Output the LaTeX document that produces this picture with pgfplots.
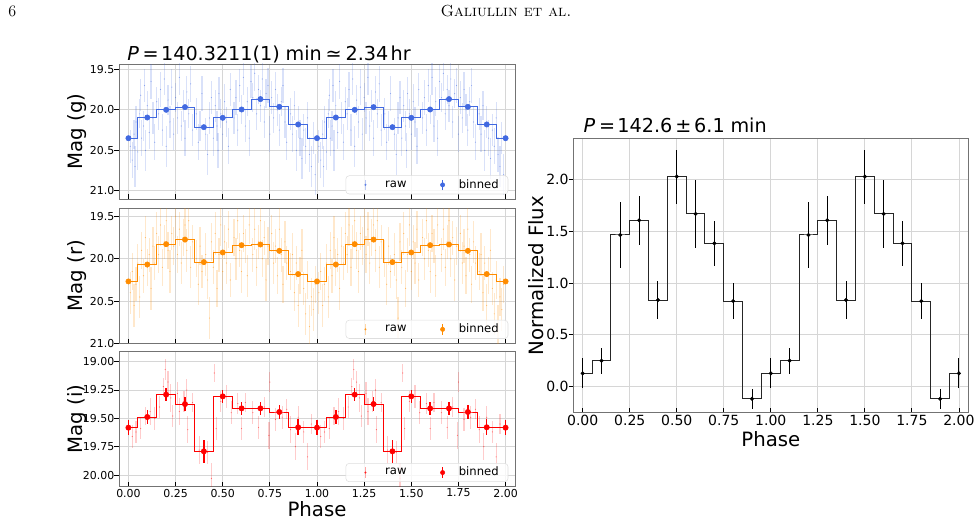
\documentclass[border=0pt]{standalone}
\usepackage{fontspec}
\usepackage{pgfplots}
\usepackage{pgfplotstable}
\pgfplotsset{compat=1.18}
\newfontfamily\dejavu{DejaVu Sans}
\definecolor{gblue}{RGB}{65,105,225}
\definecolor{rorange}{RGB}{255,140,0}
\definecolor{ired}{RGB}{255,0,0}

% ---------- raw g (phase 0-1; shown again at phase+1) ----------
\pgfplotstableread{
x y e
0.01 20.45 0.20
0.02 20.62 0.22
0.03 20.30 0.18
0.035 20.70 0.25
0.04 20.15 0.20
0.05 20.52 0.22
0.06 20.05 0.18
0.065 19.82 0.20
0.07 20.35 0.22
0.08 20.20 0.18
0.085 19.70 0.20
0.09 20.50 0.25
0.10 19.95 0.18
0.11 20.28 0.20
0.12 19.65 0.22
0.13 20.10 0.20
0.14 20.40 0.22
0.15 19.90 0.18
0.16 20.05 0.20
0.17 19.75 0.22
0.18 20.25 0.20
0.19 19.62 0.20
0.20 20.45 0.25
0.21 19.88 0.18
0.22 20.15 0.20
0.23 19.72 0.22
0.24 20.30 0.20
0.25 19.85 0.18
0.26 20.10 0.20
0.27 19.60 0.22
0.28 20.20 0.18
0.29 19.95 0.20
0.30 20.35 0.22
0.31 19.78 0.20
0.32 20.05 0.18
0.33 19.68 0.22
0.34 20.25 0.20
0.36 20.05 0.20
0.37 20.40 0.22
0.38 20.20 0.18
0.39 19.80 0.22
0.41 20.30 0.20
0.42 20.55 0.25
0.43 20.10 0.20
0.44 19.85 0.20
0.45 20.35 0.22
0.46 19.95 0.20
0.47 20.20 0.18
0.475 20.50 0.22
0.48 19.80 0.20
0.49 20.05 0.18
0.50 20.30 0.20
0.51 19.90 0.22
0.52 20.15 0.18
0.53 20.45 0.22
0.54 19.75 0.20
0.56 20.10 0.20
0.57 19.85 0.22
0.58 20.25 0.20
0.59 19.70 0.20
0.60 20.00 0.18
0.61 19.60 0.22
0.62 20.20 0.20
0.63 19.90 0.18
0.64 20.35 0.22
0.65 19.65 0.20
0.66 19.85 0.18
0.67 19.55 0.22
0.68 20.05 0.20
0.69 19.75 0.18
0.70 19.95 0.20
0.71 19.62 0.22
0.72 20.15 0.20
0.73 19.80 0.18
0.74 19.70 0.22
0.75 20.30 0.22
0.76 19.85 0.20
0.77 20.10 0.18
0.78 19.75 0.22
0.79 20.00 0.20
0.80 20.25 0.20
0.81 19.90 0.18
0.82 19.70 0.22
0.83 20.15 0.20
0.84 20.40 0.22
0.86 20.05 0.20
0.87 20.30 0.22
0.88 19.95 0.18
0.89 20.50 0.25
0.90 20.15 0.20
0.91 20.35 0.22
0.92 20.60 0.25
0.93 20.25 0.20
0.94 20.45 0.22
0.95 20.10 0.20
0.96 20.55 0.22
0.97 20.70 0.25
0.98 20.35 0.20
0.99 20.80 0.25
}\graw

% ---------- raw r ----------
\pgfplotstableread{
x y e
0.01 20.40 0.25
0.02 20.15 0.22
0.03 20.55 0.25
0.04 20.30 0.20
0.05 20.05 0.22
0.06 20.45 0.25
0.07 19.90 0.22
0.08 20.20 0.20
0.09 19.75 0.25
0.10 20.10 0.22
0.11 19.95 0.20
0.12 20.35 0.25
0.13 19.85 0.22
0.14 20.05 0.20
0.15 19.70 0.25
0.16 19.95 0.22
0.17 19.60 0.25
0.18 20.10 0.22
0.19 19.80 0.20
0.20 19.55 0.25
0.21 19.90 0.22
0.22 20.15 0.25
0.23 19.70 0.20
0.24 19.85 0.22
0.25 19.50 0.25
0.26 19.95 0.22
0.27 19.65 0.20
0.28 20.05 0.25
0.29 19.75 0.22
0.30 19.60 0.20
0.31 19.90 0.25
0.32 19.55 0.22
0.33 20.10 0.25
0.34 19.80 0.20
0.36 20.00 0.22
0.37 20.30 0.25
0.38 19.85 0.22
0.39 20.15 0.20
0.41 19.95 0.25
0.42 20.25 0.22
0.43 20.70 0.25
0.44 19.80 0.22
0.45 20.10 0.20
0.46 19.70 0.25
0.47 20.35 0.22
0.48 19.95 0.20
0.49 19.60 0.25
0.50 20.15 0.22
0.51 19.80 0.20
0.52 20.05 0.25
0.53 19.65 0.22
0.54 20.25 0.20
0.56 19.75 0.22
0.57 20.00 0.25
0.58 19.55 0.22
0.59 19.90 0.20
0.60 20.15 0.25
0.61 19.70 0.22
0.62 19.85 0.20
0.63 20.20 0.25
0.64 19.60 0.22
0.66 19.95 0.20
0.67 19.65 0.25
0.68 20.10 0.22
0.69 19.80 0.20
0.70 19.55 0.25
0.71 20.00 0.22
0.72 19.75 0.20
0.73 20.25 0.25
0.74 19.85 0.22
0.76 19.70 0.22
0.77 20.05 0.25
0.78 19.85 0.20
0.79 20.20 0.22
0.80 19.65 0.25
0.81 19.95 0.20
0.82 20.30 0.22
0.83 19.80 0.25
0.84 20.05 0.20
0.86 20.15 0.22
0.87 19.95 0.25
0.88 20.40 0.22
0.89 20.05 0.20
0.90 20.55 0.25
0.91 20.20 0.22
0.92 19.90 0.25
0.93 20.35 0.20
0.94 20.65 0.25
0.95 20.25 0.22
0.96 20.80 0.25
0.97 20.45 0.22
0.98 20.60 0.25
0.99 20.30 0.22
}\rraw

% ---------- raw i ----------
\pgfplotstableread{
x y e
0.02 19.66 0.10
0.04 19.62 0.10
0.065 19.59 0.09
0.09 19.48 0.08
0.115 19.44 0.12
0.14 19.50 0.10
0.165 19.40 0.10
0.185 19.22 0.08
0.195 19.07 0.09
0.21 19.18 0.10
0.225 19.32 0.12
0.235 19.48 0.10
0.26 19.28 0.10
0.27 19.44 0.12
0.295 19.35 0.09
0.31 19.25 0.10
0.315 19.60 0.12
0.34 19.36 0.08
0.375 19.78 0.12
0.42 19.80 0.10
0.44 20.03 0.14
0.455 19.10 0.08
0.465 19.59 0.10
0.49 19.35 0.09
0.52 19.31 0.10
0.545 19.45 0.10
0.58 19.37 0.09
0.60 19.59 0.10
0.62 19.36 0.08
0.66 19.45 0.10
0.69 19.58 0.10
0.72 19.40 0.09
0.745 19.65 0.12
0.75 19.18 0.09
0.78 19.51 0.10
0.815 19.49 0.10
0.84 19.42 0.09
0.86 19.60 0.12
0.885 19.75 0.12
0.90 19.49 0.10
0.93 19.62 0.10
0.95 19.84 0.12
0.97 19.55 0.09
}\iraw

% ---------- binned ----------
\pgfplotstableread{
x y e
0.0 20.350 0.025
0.1 20.095 0.020
0.2 20.000 0.020
0.3 19.967 0.020
0.4 20.214 0.025
0.5 20.099 0.020
0.6 19.996 0.020
0.7 19.868 0.020
0.8 19.963 0.020
0.9 20.181 0.025
1.0 20.350 0.025
1.1 20.095 0.020
1.2 20.000 0.020
1.3 19.967 0.020
1.4 20.214 0.025
1.5 20.099 0.020
1.6 19.996 0.020
1.7 19.868 0.020
1.8 19.963 0.020
1.9 20.181 0.025
2.0 20.350 0.025
}\gbin
\pgfplotstableread{
x y e
0.0 20.267 0.030
0.1 20.067 0.030
0.2 19.827 0.030
0.3 19.773 0.030
0.4 20.039 0.030
0.5 19.925 0.030
0.6 19.839 0.030
0.7 19.831 0.030
0.8 19.906 0.030
0.9 20.180 0.030
1.0 20.267 0.030
1.1 20.067 0.030
1.2 19.827 0.030
1.3 19.773 0.030
1.4 20.039 0.030
1.5 19.925 0.030
1.6 19.839 0.030
1.7 19.831 0.030
1.8 19.906 0.030
1.9 20.180 0.030
2.0 20.267 0.030
}\rbin
\pgfplotstableread{
x y e
0.0 19.582 0.066
0.1 19.488 0.060
0.2 19.291 0.060
0.3 19.374 0.060
0.4 19.791 0.100
0.5 19.306 0.060
0.6 19.412 0.060
0.7 19.412 0.060
0.8 19.444 0.060
0.9 19.579 0.070
1.0 19.582 0.066
1.1 19.488 0.060
1.2 19.291 0.060
1.3 19.374 0.060
1.4 19.791 0.100
1.5 19.306 0.060
1.6 19.412 0.060
1.7 19.412 0.060
1.8 19.444 0.060
1.9 19.579 0.070
2.0 19.582 0.066
}\ibin
\pgfplotstableread{
x y e
0.0 0.129 0.145
0.1 0.251 0.127
0.2 1.463 0.315
0.3 1.605 0.234
0.4 0.836 0.183
0.5 2.026 0.260
0.6 1.666 0.331
0.7 1.383 0.215
0.8 0.826 0.175
0.9 -0.116 0.097
1.0 0.129 0.145
1.1 0.251 0.127
1.2 1.463 0.315
1.3 1.605 0.234
1.4 0.836 0.183
1.5 2.026 0.260
1.6 1.666 0.331
1.7 1.383 0.215
1.8 0.826 0.175
1.9 -0.116 0.097
2.0 0.129 0.145
}\fluxbin

\pgfplotsset{
  base/.style={
    scale only axis,
    xmin=-0.05, xmax=2.05,
    xtick={0,0.25,0.5,0.75,1,1.25,1.5,1.75,2},
    grid=major,
    major grid style={black!16, line width=0.6pt},
    axis line style={black!55, line width=0.6pt},
    tick align=inside, tick pos=left,
    major tick length=3.5pt,
    every tick/.style={black, line width=0.6pt},
    every y tick/.append style={xshift=-3.5pt},
    xticklabel style={inner ysep=1.5pt, /pgf/number format/fixed, /pgf/number format/fixed zerofill, /pgf/number format/precision=2},
    label style={font=\dejavu\fontsize{14.8}{17}\selectfont},
    tick label style={/pgf/number format/assume math mode=true},
  },
  lpanel/.style={
    base, width=297pt, y dir=reverse,
    tick label style={font=\dejavu\fontsize{8.2}{9}\selectfont},
    ylabel style={at={(axis description cs:-0.105,0.5)}, anchor=center},
    legend style={at={(0.983,0.035)}, anchor=south east, legend columns=2,
      draw=black!13, rounded corners=2.5pt, fill=white, fill opacity=0.8,
      text opacity=1, draw opacity=1, inner xsep=5pt, inner ysep=0.8pt,
      font=\dejavu\fontsize{8.7}{10}\selectfont,
      /tikz/every odd column/.append style={column sep=8pt},
      /tikz/every even column/.append style={column sep=22.85pt}},
  },
  rawimg/.style={legend image code/.code={
    \path (-9.5pt,0pt) (4.6pt,0pt);
    \draw[#1, opacity=0.35, line width=0.9pt] (0pt,-4pt) -- (0pt,4pt);
    \fill[#1, opacity=0.6] (0pt,0pt) circle (0.6pt);}},
  binimg/.style={legend image code/.code={
    \path (-2pt,0pt) (2pt,0pt);
    \draw[#1, opacity=1, line width=1pt] (0pt,-4pt) -- (0pt,4pt);
    \fill[#1, opacity=1] (0pt,0pt) circle (1.6pt);}},
  rawplot/.style={color=#1, only marks, mark=*, mark size=0.45pt,
    mark options={#1, opacity=0.5, draw opacity=0},
    error bars/y dir=both, error bars/y explicit,
    error bars/error bar style={#1, opacity=0.2, line width=0.9pt},
    error bars/error mark=none},
  binplot/.style={color=#1, only marks, mark=*, mark size=2pt, mark options={#1},
    error bars/y dir=both, error bars/y explicit,
    error bars/error bar style={#1, line width=1pt},
    error bars/error mark=none},
  stepplot/.style={color=#1, const plot mark mid, no marks, line width=0.7pt},
}

\begin{document}
\begin{tikzpicture}
\useasboundingbox (0pt,0pt) rectangle (735pt,393.75pt);

% header
\node[anchor=base west, inner sep=0pt, font=\fontsize{12}{14}\selectfont] at (6pt,381pt) {6};
\node[anchor=base, inner sep=0pt, font=\fontsize{12}{14}\selectfont] at (379.5pt,381pt) {\textsc{Galiullin et al.}};

% ---- g ----
\begin{axis}[lpanel, at={(89.25pt,244.5pt)}, anchor=south west, height=101.25pt,
  ymin=19.435, ymax=21.10, ytick={19.5,20,20.5,21},
  yticklabel style={/pgf/number format/fixed, /pgf/number format/fixed zerofill, /pgf/number format/precision=1},
  xticklabels={}, ylabel={Mag (g)}]
\addplot[rawplot=gblue, rawimg=gblue] table[x=x, y=y, y error=e] {\graw};
\addlegendentry{raw}
\addplot[rawplot=gblue, forget plot] table[x expr=\thisrow{x}+1, y=y, y error=e] {\graw};
\addplot[stepplot=gblue, forget plot] table[x=x, y=y] {\gbin};
\addplot[binplot=gblue, binimg=gblue] table[x=x, y=y, y error=e] {\gbin};
\addlegendentry{binned}
\end{axis}

% ---- r ----
\begin{axis}[lpanel, at={(89.25pt,136.125pt)}, anchor=south west, height=101.625pt,
  ymin=19.40, ymax=21.0, ytick={19.5,20,20.5,21},
  yticklabel style={/pgf/number format/fixed, /pgf/number format/fixed zerofill, /pgf/number format/precision=1},
  xticklabels={}, ylabel={Mag (r)}]
\addplot[rawplot=rorange, rawimg=rorange] table[x=x, y=y, y error=e] {\rraw};
\addlegendentry{raw}
\addplot[rawplot=rorange, forget plot] table[x expr=\thisrow{x}+1, y=y, y error=e] {\rraw};
\addplot[stepplot=rorange, forget plot] table[x=x, y=y] {\rbin};
\addplot[binplot=rorange, binimg=rorange] table[x=x, y=y, y error=e] {\rbin};
\addlegendentry{binned}
\end{axis}

% ---- i ----
\begin{axis}[lpanel, at={(89.25pt,28.725pt)}, anchor=south west, height=101.775pt,
  ymin=18.906, ymax=20.103, ytick={19,19.25,19.5,19.75,20},
  yticklabel style={/pgf/number format/fixed, /pgf/number format/fixed zerofill, /pgf/number format/precision=2},
  xlabel={Phase}, xlabel style={at={(axis description cs:0.5,-0.166)}, anchor=center},
  ylabel={Mag (i)}]
\addplot[rawplot=ired, rawimg=ired] table[x=x, y=y, y error=e] {\iraw};
\addlegendentry{raw}
\addplot[rawplot=ired, forget plot] table[x expr=\thisrow{x}+1, y=y, y error=e] {\iraw};
\addplot[stepplot=ired, forget plot] table[x=x, y=y] {\ibin};
\addplot[binplot=ired, binimg=ired] table[x=x, y=y, y error=e] {\ibin};
\addlegendentry{binned}
\end{axis}

% ---- flux ----
\begin{axis}[base, at={(429.975pt,84.225pt)}, anchor=south west,
  width=296.25pt, height=205.8pt,
  ymin=-0.25, ymax=2.395, ytick={0,0.5,1,1.5,2},
  tick label style={font=\dejavu\fontsize{10.5}{12}\selectfont},
  yticklabel style={/pgf/number format/fixed, /pgf/number format/fixed zerofill, /pgf/number format/precision=1},
  xlabel={Phase}, xlabel style={at={(axis description cs:0.5,-0.096)}, anchor=center},
  ylabel={Normalized Flux}, ylabel style={at={(axis description cs:-0.0947,0.5)}, anchor=center}]
\addplot[color=black!85, const plot mark mid, no marks, line width=0.75pt] table[x=x, y=y] {\fluxbin};
\addplot[color=black, only marks, mark=*, mark size=1.3pt,
  error bars/y dir=both, error bars/y explicit,
  error bars/error bar style={black, line width=0.75pt}, error bars/error mark=none]
  table[x=x, y=y, y error=e] {\fluxbin};
\end{axis}

% titles
\node[anchor=base west, inner sep=0pt, font=\dejavu\fontsize{14.4}{16}\selectfont] at (95.25pt,348.2pt)
  {{\itshape P}\hspace{0.2em}=\hspace{0.12em}140.3211(1)\hspace{0.3em}min\hspace{0.2em}≃\hspace{0.2em}2.34\hspace{0.12em}hr};
\node[anchor=base west, inner sep=0pt, font=\dejavu\fontsize{14.4}{16}\selectfont] at (437.5pt,294.2pt)
  {{\itshape P}\hspace{0.2em}=\hspace{0.12em}142.6\hspace{0.15em}±\hspace{0.15em}6.1\hspace{0.3em}min};
\end{tikzpicture}
\end{document}
